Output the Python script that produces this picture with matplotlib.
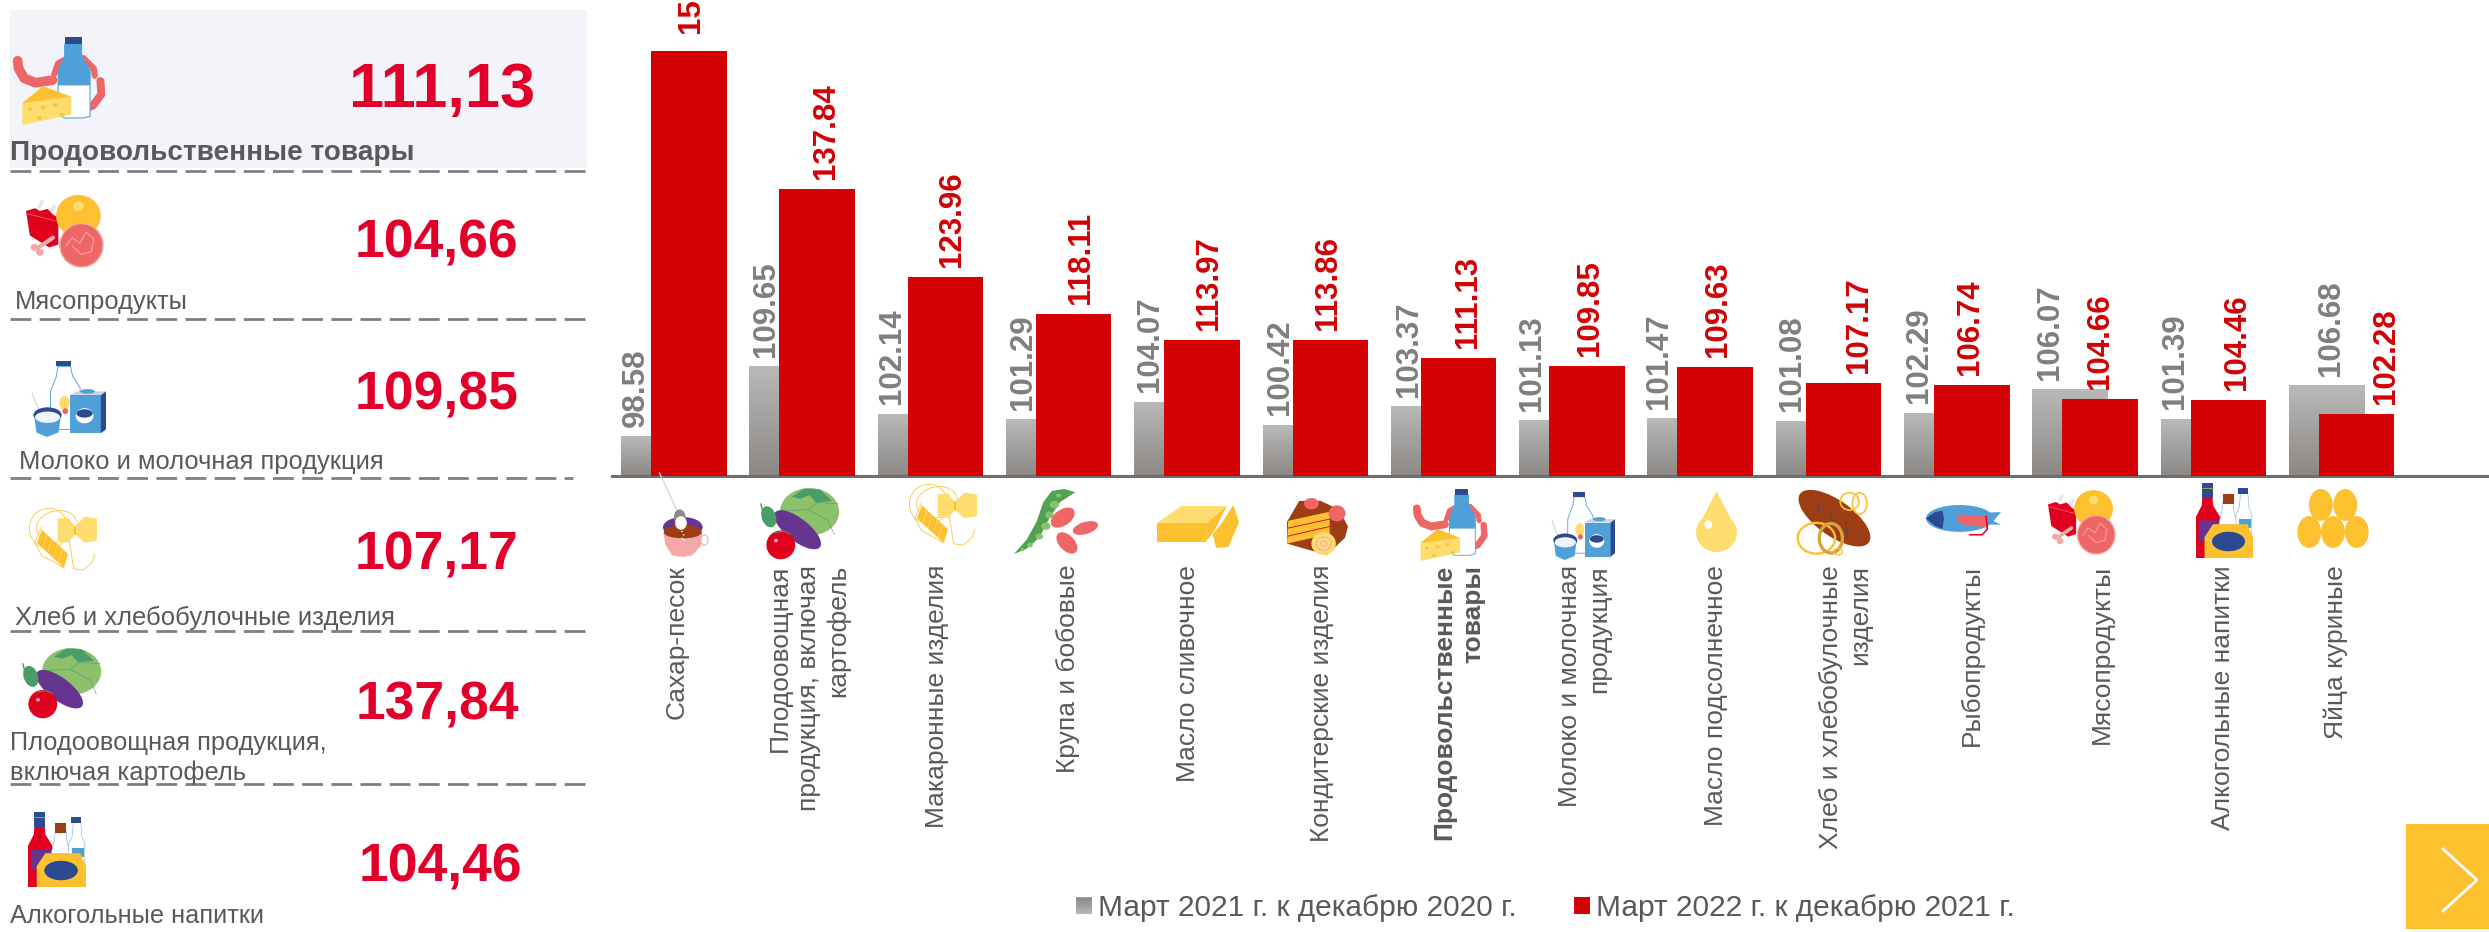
import numpy as np
import matplotlib
matplotlib.use("Agg")
import matplotlib.pyplot as plt
from matplotlib.patches import Ellipse, Polygon, Rectangle, Patch
from matplotlib.lines import Line2D
from matplotlib.transforms import Affine2D
from matplotlib.colors import LinearSegmentedColormap

plt.rcParams['font.family'] = ['Liberation Sans', 'DejaVu Sans']

# ---------- data ----------
categories = ['Сахар-песок', 'Плодоовощная\nпродукция, включая\nкартофель', 'Макаронные изделия',
              'Крупа и бобовые', 'Масло сливочное', 'Кондитерские изделия',
              'Продовольственные\nтовары', 'Молоко и молочная\nпродукция', 'Масло подсолнечное',
              'Хлеб и хлебобулочные\nизделия', 'Рыбопродукты', 'Мясопродукты',
              'Алкогольные напитки', 'Яйца куриные']
march_2021 = [98.58, 109.65, 102.14, 101.29, 104.07, 100.42, 103.37, 101.13, 101.47, 101.08, 102.29, 106.07, 101.39, 106.68]
march_2022 = [159.60, 137.84, 123.96, 118.11, 113.97, 113.86, 111.13, 109.85, 109.63, 107.17, 106.74, 104.66, 104.46, 102.28]
series_names = ['Март 2021 г. к декабрю 2020 г.', 'Март 2022 г. к декабрю 2021 г.']

panel_names = ['Продовольственные товары', 'Мясопродукты', 'Молоко и молочная продукция',
               'Хлеб и хлебобулочные изделия', 'Плодоовощная продукция,', 'включая картофель', 'Алкогольные напитки']
panel_values = ['111,13', '104,66', '109,85', '107,17', '137,84', '104,46']

# ---------- style / layout (pixels) ----------
W, H = 2489, 932
GREY_TXT, RED_BAR, RED_VAL = '#7f7f7f', '#d20205', '#e2002a'
TXT = '#595959'
Y_, YL, R_, PK, NV, BL, GN, LG, PU, BR, PI = ('#fdc02f', '#ffdc6e', '#e2001f', '#ee6666', '#2b4a8f', '#4f9fd9',
                                              '#4a9d69', '#8cc06b', '#653590', '#9c3d14', '#f5a8a8')
STEP = 128.3
C0 = 673.75
BASE_PX = 476.0
PX_PER_UNIT = 6.32
BASE_VAL = 92.4
BW = 75.5 / STEP
OFF = 15.0 / STEP
red_dx = [2, 9, 7, 7, 7, -2, 9, 3.5, 3, 16, -2, 0, 9, 29]
grey_dx = [-23, -21, -23, -21, -22, -20, -20, -25, -26, -21, -23, -20, -23, 4]
label_dx = [3, 7, 7, 9, 1, 7, 15, 13, 16, 17, 15, 17, 10, -6]

fig = plt.figure(figsize=(W / 100, H / 100), dpi=100, facecolor='white')
AX_L = 612
ax = fig.add_axes([AX_L / W, 1 - BASE_PX / H, (W - AX_L) / W, BASE_PX / H])
ax.set_xlim((AX_L - C0) / STEP, (W - C0) / STEP)
ax.set_ylim(BASE_VAL, BASE_VAL + BASE_PX / PX_PER_UNIT)
ax.patch.set_alpha(0)
for s in ['top', 'left', 'right']:
    ax.spines[s].set_visible(False)
ax.spines['bottom'].set_color('#6f6f6f')
ax.spines['bottom'].set_linewidth(2.2)
ax.set_yticks([])

x = np.arange(len(categories))
v21 = np.array(march_2021)
v22 = np.array(march_2022)
g_bars = ax.bar(x - OFF, v21 - BASE_VAL, BW, bottom=BASE_VAL, color='#a3a19f', zorder=2)
ax.bar(x + OFF, v22 - BASE_VAL, BW, bottom=BASE_VAL, color=RED_BAR, zorder=3)
grad = np.linspace(0, 1, 64)[:, None]
cm = LinearSegmentedColormap.from_list('g', ['#bab9b7', '#8b8886'])
xl, yl = ax.get_xlim(), ax.get_ylim()
for b in g_bars:
    ax.imshow(grad, cmap=cm, aspect='auto', zorder=2.5, origin='upper', interpolation='bilinear',
              extent=(b.get_x(), b.get_x() + b.get_width(), b.get_y(), b.get_y() + b.get_height()))
ax.set_xlim(xl)
ax.set_ylim(yl)

for i in x:
    ax.annotate(f'{v21[i]:.2f}', xy=(i - OFF, v21[i]), xytext=(grey_dx[i], 10), textcoords='offset pixels',
                rotation=90, ha='center', va='bottom', fontsize=22.5, fontweight='bold', color=GREY_TXT, zorder=4)
    ax.annotate(f'{v22[i]:.2f}', xy=(i + OFF, v22[i]), xytext=(red_dx[i], 18 if i == 0 else 10), textcoords='offset pixels',
                rotation=90, ha='center', va='bottom', fontsize=22.5, fontweight='bold', color=RED_BAR, zorder=4,
                annotation_clip=False)

ax.set_xticks(x)
ax.set_xticklabels(categories, rotation=90, ha='center', va='top', multialignment='right',
                   fontsize=19, color=TXT, linespacing=1.28)
ax.tick_params(axis='x', length=0, pad=64)
for t, d in zip(ax.get_xticklabels(), label_dx):
    t.set_transform(t.get_transform() + Affine2D().translate(d, 0))
ax.get_xticklabels()[6].set_fontweight('bold')

# ---------- overlay in pixel coordinates ----------
ov = fig.add_axes([0, 0, 1, 1])
ov.set_xlim(0, W)
ov.set_ylim(H, 0)
ov.axis('off')
ov.patch.set_alpha(0)
ov.add_patch(Rectangle((10, 10), 577, 158, fc='#f2f4fa', ec='none', zorder=0))
for y_, x1 in zip([171, 319, 478, 631, 784], [585, 585, 573, 585, 585]):
    ov.add_line(Line2D([10, x1], [y_, y_], color='#7f7f7f', lw=2.0, dashes=(7.5, 3.0), zorder=1))

renderer = fig.canvas.get_renderer()


def fit_text(x0, base, s, width, **kw):
    t = ov.text(x0, base, s, ha='left', va='baseline', fontsize=19, color=TXT, zorder=3, **kw)
    t.set_fontsize(19 * width / t.get_window_extent(renderer).width)
    return t


name_pos = [(10, 160, 404), (15, 309, 173), (19, 469, 364), (15, 625, 380), (10, 750, 318), (10, 780, 236), (10, 923, 255)]
for j, (n, (a, b, c)) in enumerate(zip(panel_names, name_pos)):
    fit_text(a, b, n, c, fontweight='bold' if j == 0 else 'normal')

val_pos = [(442, 107, 45.5), (436, 257, 38.5), (437, 409, 38.5), (437, 569, 38.5), (437, 719, 38.5), (440, 882, 38.5)]
for v, (a, b, c) in zip(panel_values, val_pos):
    ov.text(a, b, v, ha='center', va='baseline', fontsize=c, fontweight='bold', color=RED_VAL, zorder=3)


# ---------- simplified icons ----------
class Icon:
    def __init__(self, x0, y0, x1, y1):
        self.h = y1 - y0
        self.tr = Affine2D().scale(x1 - x0, y1 - y0).translate(x0, y0) + ov.transData

    def E(self, cx, cy, rx, ry, c='none', ec='none', lw=0, angle=0):
        ov.add_patch(Ellipse((cx, cy), 2 * rx, 2 * ry, angle=angle, fc=c, ec=ec, lw=lw * self.h * .72, transform=self.tr, zorder=4))

    def P(self, pts, c, ec='none', lw=0):
        ov.add_patch(Polygon(pts, closed=True, fc=c, ec=ec, lw=lw * self.h * .72, transform=self.tr, zorder=4, joinstyle='round'))

    def L(self, pts, c, lw):
        p = np.array(pts)
        ov.add_line(Line2D(p[:, 0], p[:, 1], color=c, lw=lw * self.h * .72, transform=self.tr, zorder=4,
                           solid_capstyle='round', solid_joinstyle='round'))


def grocery(i):
    i.L([(.05, .27), (.06, .36), (.12, .47), (.24, .52), (.42, .49)], PK, .11)
    i.L([(.44, .42), (.48, .3), (.6, .23), (.75, .24), (.86, .36), (.87, .44)], PK, .07)
    i.L([(.93, .5), (.94, .65), (.85, .78), (.8, .8)], PK, .09)
    i.P([(.55, .08), (.73, .08), (.73, .22), (.82, .38), (.82, .9), (.75, .92), (.55, .92), (.48, .88), (.48, .38), (.55, .22)], 'white', BL, .012)
    i.P([(.55, .08), (.73, .08), (.73, .22), (.82, .38), (.82, .55), (.48, .55), (.48, .38), (.55, .22)], BL)
    i.P([(.55, 0), (.73, 0), (.73, .08), (.55, .08)], NV)
    i.P([(.1, .75), (.32, .56), (.62, .68), (.62, .88), (.1, 1.0)], YL)
    i.P([(.1, .75), (.32, .56), (.62, .68)], Y_)
    for a, b in [(.18, .82), (.32, .8), (.45, .77), (.28, .92), (.52, .88)]:
        i.E(a, b, .025, .018, Y_)


def meat(i):
    i.L([(.17, .14), (.21, .07)], '#e6e6e6', .05)
    i.L([(.33, .2), (.37, .13)], '#e6e6e6', .05)
    i.P([(0, .2), (.12, .16), (.18, .2), (.28, .17), (.35, .25), (.42, .3), (.42, .68), (.3, .72), (.05, .55)], R_)
    i.L([(.02, .24), (.38, .34)], PK, .012)
    i.E(.68, .27, .29, .3, Y_)
    i.E(.68, .13, .07, .07, YL)
    i.L([(.35, .58), (.15, .73)], PI, .06)
    i.E(.11, .72, .05, .05, PI)
    i.E(.18, .79, .05, .05, PI)
    i.E(.72, .69, .28, .31, PK, PI, .02)
    i.L([(.52, .7), (.6, .58), (.7, .66), (.78, .5), (.88, .6), (.85, .78), (.72, .82), (.6, .7)], PI, .014)


def milk(i):
    i.P([(.35, .07), (.52, .07), (.55, .2), (.65, .35), (.65, .9), (.25, .9), (.25, .4), (.33, .2)], 'white', BL, .012)
    i.P([(.33, 0), (.53, 0), (.53, .07), (.33, .07)], NV)
    i.E(.44, .55, .07, .09, YL)
    i.E(.45, .66, .04, .04, PK)
    i.P([(.52, .45), (.6, .4), (1, .4), (.93, .45)], '#c9d3e2')
    i.P([(.52, .45), (.93, .45), (.93, .95), (.52, .95)], BL)
    i.P([(.93, .45), (1, .4), (1, .9), (.93, .95)], NV)
    i.E(.75, .4, .1, .03, BL)
    i.E(.71, .72, .12, .1, 'white')
    i.E(.71, .69, .11, .055, NV)
    i.L([(.0, .42), (.1, .66)], '#c8c8c8', .012)
    i.P([(.03, .72), (.39, .72), (.36, .94), (.2, 1.0), (.06, .94)], BL)
    i.E(.21, .71, .19, .1, NV)
    i.E(.21, .74, .17, .075, '#eef4fa')


def pasta(i):
    lw = .012
    i.E(.3, .33, .28, .31, 'none', Y_, lw)
    i.E(.42, .3, .3, .24, 'none', Y_, lw, angle=-15)
    i.L([(.55, .3), (.62, .65), (.66, .95), (.8, .97), (.93, .85), (.97, .72)], Y_, lw)
    i.L([(.2, .3), (.1, .55), (.2, .75), (.38, .85), (.5, .93)], Y_, lw)
    i.P([(.43, .18), (.58, .16), (.68, .3), (.82, .15), (1, .18), (1, .52), (.82, .55), (.68, .42), (.58, .55), (.43, .52)], YL)
    i.L([(.68, .3), (.68, .42)], Y_, .03)
    i.P([(.13, .55), (.52, .94), (.58, .72), (.2, .35)], Y_)
    for t in [.2, .4, .6, .8]:
        i.L([(.13 + .39 * t, .55 + .39 * t), (.2 + .38 * t, .35 + .37 * t)], YL, .012)


def veg(i):
    i.E(.62, .33, .37, .33, LG)
    i.P([(.4, .12), (.55, .01), (.75, .02), (.9, .18), (.7, .2), (.62, .1), (.5, .15)], GN)
    i.L([(.26, .32), (.6, .3), (.85, .45), (.93, .65)], GN, .008)
    i.L([(.6, .3), (.72, .2), (.98, .22)], GN, .008)
    i.E(.47, .58, .37, .15, PU, angle=42)
    i.E(.11, .4, .09, .15, GN, angle=-15)
    i.L([(.01, .22), (.04, .35)], GN, .02)
    i.E(.26, .79, .18, .2, R_)
    i.L([(.17, .62), (.3, .6), (.38, .64)], GN, .015)
    i.E(.2, .73, .025, .025, PI)


def alcohol(i):
    i.P([(.11, 0), (.29, 0), (.29, .2), (.11, .2)], NV)
    i.L([(.11, .07), (.29, .07)], '#c8a13a', .012)
    i.P([(.11, .2), (.29, .2), (.3, .3), (.42, .45), (.42, 1), (0, 1), (0, .45), (.1, .3)], R_)
    i.P([(.05, .5), (.4, .5), (.4, .72), (.05, .78)], PU)
    i.P([(.47, .25), (.66, .25), (.66, .35), (.72, .55), (.4, .55), (.46, .35)], 'white', BL, .006)
    i.P([(.47, .15), (.66, .15), (.66, .28), (.47, .28)], BR)
    i.P([(.78, .14), (.91, .14), (.93, .33), (.98, .42), (.98, .8), (.7, .8), (.7, .42), (.76, .33)], 'white', BL, .006)
    i.P([(.74, .06), (.91, .06), (.91, .14), (.74, .14)], NV)
    i.P([(.75, .48), (.97, .48), (.97, .6), (.75, .6)], BL)
    i.P([(.3, .55), (.9, .55), (1, .72), (1, 1), (.15, 1), (.15, .72)], Y_)
    i.E(.57, .78, .29, .13, NV)


def sugar(i):
    i.L([(-.08, .01), (.32, .46)], '#d9d9d9', .016)
    i.E(.44, .65, .44, .12, PU)
    i.E(.44, .71, .42, .09, BR)
    i.P([(.01, .71), (.44, .76), (.87, .71), (.84, .87), (.65, .98), (.45, 1), (.2, .98), (.05, .85)], PI)
    i.E(.44, .71, .42, .07, BR)
    i.E(.92, .8, .08, .06, 'none', PI, .012)
    i.E(.37, .53, .13, .09, '#8c8c8c')
    i.E(.4, .6, .13, .08, 'white')
    for a, b in [(.42, .7), (.46, .74), (.42, .78), (.47, .8)]:
        i.E(a, b, .02, .008, 'white')


def peas(i):
    i.P([(0, 1), (.15, .92), (.3, .75), (.42, .45), (.55, .2), (.73, .05), (.6, 0), (.45, .03), (.35, .2), (.27, .5), (.15, .78)], '#4fa24f')
    for a, b, r in [(.53, .1, .03), (.48, .24, .055), (.42, .4, .05), (.38, .57, .055), (.3, .73, .045), (.19, .86, .035), (.1, .93, .02)]:
        i.E(a, b, r, r * 1.05, LG)
    i.E(.58, .44, .11, .18, PK, angle=40)
    i.E(.85, .6, .16, .09, PK, angle=-25)
    i.E(.63, .83, .1, .18, PK, angle=-30)


def butter(i):
    i.P([(0, .42), (.6, .42), (.6, .85), (0, .85)], Y_)
    i.P([(.6, .42), (.85, .02), (.7, .6), (.6, .85)], Y_)
    i.P([(0, .42), (.3, .02), (.85, .02), (.6, .42)], YL)
    i.P([(.68, .68), (.78, .45), (.93, 0), (1, .4), (.87, .98), (.72, 1)], Y_)


def cake(i):
    i.P([(0, .42), (.2, .05), (.55, .05), (.85, .2), (1, .5), (.95, .7), (.65, 1), (0, .8)], BR)
    i.P([(.02, .4), (.7, .24), (.7, .63), (0, .8)], Y_)
    i.L([(.01, .53), (.7, .37)], R_, .016)
    i.L([(.01, .67), (.7, .5)], R_, .016)
    i.E(.4, .1, .12, .1, PK)
    i.E(.82, .27, .14, .14, PK)
    i.E(.6, .8, .2, .2, YL)
    i.E(.6, .8, .12, .12, 'none', PI, .018)
    i.E(.6, .8, .05, .05, 'none', PI, .018)


def drop(i):
    i.P([(.5, 0), (.08, .55), (.92, .55)], YL)
    i.E(.5, .68, .5, .32, YL)
    i.E(.3, .55, .1, .07, 'white')


def bread(i):
    i.E(.52, .45, .6, .26, BR, angle=38)
    for a, b, c, d in [(.28, .2, .3, .35), (.47, .35, .49, .5), (.67, .5, .7, .76)]:
        i.L([(a, b), (c, d)], NV, .012)
    i.E(.73, .2, .13, .13, 'none', Y_, .025)
    i.E(.87, .23, .1, .16, 'none', Y_, .025)
    i.E(.27, .75, .26, .23, 'none', Y_, .035)
    i.E(.47, .75, .16, .22, 'none', '#d9a33a', .05)
    i.E(.57, .95, .06, .05, 'none', Y_, .02)


def fish(i):
    i.E(.45, .42, .45, .42, BL)
    i.P([(.72, .25), (1, .22), (.9, .5), (1, .62), (.72, .6)], BL)
    i.P([(0, .42), (.12, .22), (.22, .18), (.24, .42), (.22, .75), (.12, .65)], NV)
    i.P([(.42, .3), (.82, .33), (.82, .7), (.5, .62), (.42, .48)], PK)
    i.L([(.8, .35), (.82, .75), (.75, .93), (.58, .93)], R_, .05)


def eggs(i):
    for a, b in [(.33, .27), (.67, .27), (.17, .73), (.5, .73), (.83, .73)]:
        i.E(a, b, .165, .27, Y_)


chart_icons = [(sugar, 663, 472, 708, 557), (veg, 760, 488, 840, 560), (pasta, 908, 483, 977, 547),
               (peas, 1014, 489, 1098, 554), (butter, 1157, 505, 1239, 548), (cake, 1287, 498, 1348, 555),
               (grocery, 1413, 489, 1489, 561), (milk, 1552, 492, 1615, 560), (drop, 1696, 491, 1737, 552),
               (bread, 1797, 488, 1869, 555), (fish, 1926, 505, 2001, 537), (meat, 2048, 492, 2115, 554),
               (alcohol, 2196, 483, 2253, 558), (eggs, 2297, 489, 2369, 548)]
panel_icons = [(grocery, 13, 37, 107, 125), (meat, 26, 197, 103, 267), (milk, 32, 361, 106, 437),
               (pasta, 28, 507, 97, 572), (veg, 22, 648, 102, 719), (alcohol, 28, 812, 86, 887)]
for f, a, b, c, d in chart_icons + panel_icons:
    f(Icon(a, b, c, d))

# ---------- next button ----------
ov.add_patch(Rectangle((2406, 824), 83, 105, fc=Y_, ec='none', zorder=3))
ov.add_line(Line2D([2443, 2477, 2443], [849, 880, 911], color='white', lw=2.0, zorder=4))

# ---------- legend ----------
handles = [Patch(fc='#a3a19f', ec='none', label=series_names[0]), Patch(fc=RED_BAR, ec='none', label=series_names[1])]
leg = ov.legend(handles=handles, ncols=2, loc='upper left', bbox_to_anchor=(1076 / W, 1 - 894 / H),
                bbox_transform=fig.transFigure, frameon=False, fontsize=21.5, labelcolor=TXT, borderpad=0, borderaxespad=0,
                handlelength=0.54, handleheight=0.54, handletextpad=0.2, columnspacing=1.9)
ov.imshow(grad, cmap=cm, aspect='auto', extent=(1076, 1092, 914, 898), zorder=6, origin='lower')
ov.set_xlim(0, W)
ov.set_ylim(H, 0)

fig.savefig('out.png', dpi=100, facecolor='white')
